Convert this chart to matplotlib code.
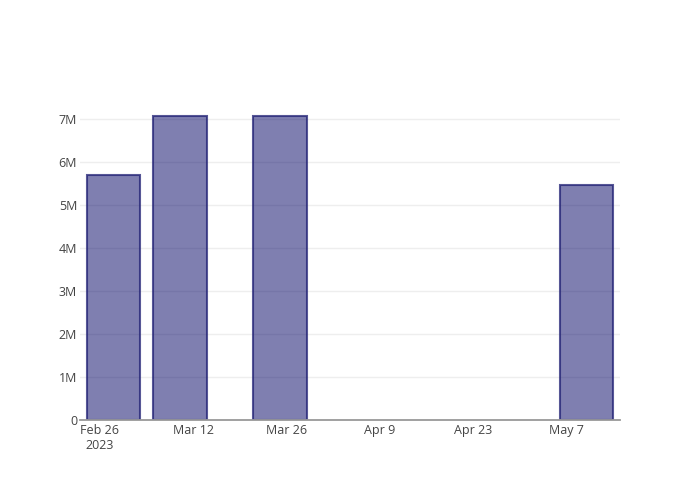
import matplotlib
matplotlib.use("Agg")
import matplotlib.pyplot as plt
import matplotlib.dates as mdates
import numpy as np
import datetime as dt

plt.rcParams['font.family'] = ['Open Sans', 'DejaVu Sans']

dates = ["2023-02-28", "2023-03-10", "2023-03-25", "2023-05-10"]
values = [5.69e6, 7.06e6, 7.07e6, 5.46e6]
tick_dates = ["2023-02-26", "2023-03-12", "2023-03-26", "2023-04-09", "2023-04-23", "2023-05-07"]
tick_labels = ["Feb 26\n2023", "Mar 12", "Mar 26", "Apr 9", "Apr 23", "May 7"]
y_ticks = [0, 1e6, 2e6, 3e6, 4e6, 5e6, 6e6, 7e6]
y_labels = ["0", "1M", "2M", "3M", "4M", "5M", "6M", "7M"]

x = mdates.date2num([dt.datetime.fromisoformat(d) for d in dates])
xt = mdates.date2num([dt.datetime.fromisoformat(d) for d in tick_dates])

fig = plt.figure(figsize=(7, 5), dpi=100)
ax = fig.add_axes([80/700, 80/500, 540/700, 320/500])

ax.bar(x, values, width=8.0, color=(0.0, 0.0, 0.39, 0.5),
       edgecolor=(0.12, 0.12, 0.45, 0.75), linewidth=1.5, zorder=3)

ax.set_xlim(mdates.date2num(dt.datetime(2023, 2, 23)), mdates.date2num(dt.datetime(2023, 5, 15)))
ax.set_ylim(0, 7.43e6)

ax.set_xticks(xt)
ax.set_xticklabels(tick_labels, fontsize=9, color='#444444')
ax.set_yticks(y_ticks)
ax.set_yticklabels(y_labels, fontsize=9, color='#444444')
ax.tick_params(axis='both', length=0)
ax.tick_params(axis='x', pad=3)
ax.tick_params(axis='y', pad=2)

ax.grid(axis='y', color='#eeeeee', linewidth=1, zorder=0)
ax.grid(axis='x', visible=False)
for s in ['top', 'right', 'left']:
    ax.spines[s].set_visible(False)
ax.spines['bottom'].set_color('#999999')
ax.spines['bottom'].set_linewidth(1.3)
ax.spines['bottom'].set_zorder(4)

fig.savefig("out.png", dpi=100)
